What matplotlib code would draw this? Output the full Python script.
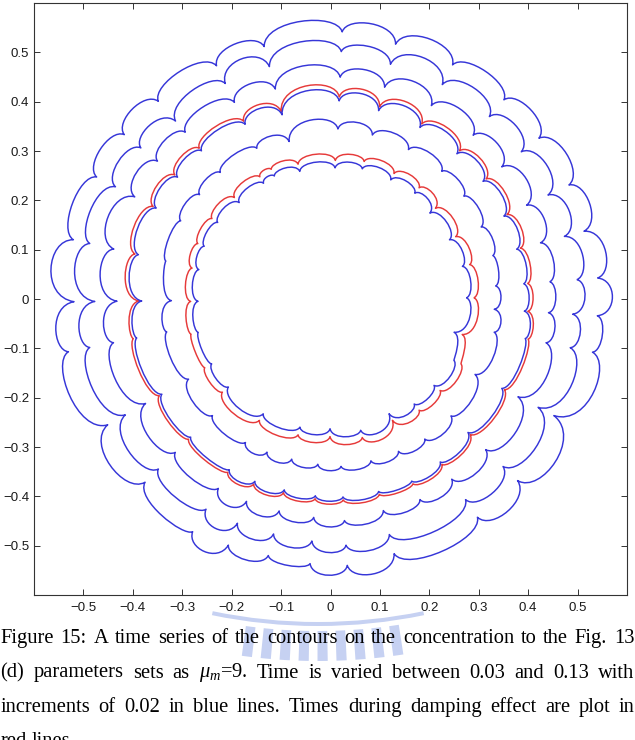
import numpy as np
import matplotlib
matplotlib.use("Agg")
import matplotlib.pyplot as plt
from matplotlib.path import Path
from matplotlib.patches import PathPatch, Wedge

# ---------------- data ----------------
# finger (cusp) angles in degrees, shared by the outer contours
ang_outer = [4.5, 15, 25.6, 37.7, 49, 62.5, 75.7, 87.5, 104.7, 116, 131, 141.4, 152.4,
             167, 180.6, 191.4, 209.5, 224.7, 239.4, 247.5, 256.4, 265.6, 273.6, 284,
             303.9, 315.8, 332.4, 348.5, 356.4]
ang_mid = [4.5, 15, 25.6, 37.7, 49, 62.5, 75.7, 87.5, 104.7, 116, 131, 141.4, 152.4,
           167, 180.6, 191.4, 209.5, 224.7, 239.4, 247.5, 256.4, 265.6, 273.6, 284, 294,
           303.9, 315.8, 332.4, 348.5, 356.4]
ang_inner = [0.5, 13.9, 26.5, 40.9, 51.5, 63.2, 76.3, 88, 103.5, 114.5, 120, 133.4, 145.8,
             157.3, 167.4, 181, 194.2, 208.7, 220.8, 239.7, 256.6, 269.8, 282.9, 297,
             308.5, 320.1, 333.5, 344.9]

# t = 0.13 (outermost blue)
b6_cusp = [0.542, 0.531, 0.535, 0.533, 0.535, 0.535, 0.533, 0.542, 0.529, 0.526, 0.531,
           0.534, 0.534, 0.534, 0.519, 0.541, 0.518, 0.528, 0.548, 0.540, 0.535, 0.538,
           0.541, 0.532, 0.533, 0.528, 0.510, 0.541, 0.541]
b6_peak = [0.565, 0.559, 0.561, 0.558, 0.558, 0.564, 0.564, 0.566, 0.552, 0.553, 0.556,
           0.556, 0.557, 0.569, 0.559, 0.563, 0.559, 0.556, 0.572, 0.556, 0.547, 0.560,
           0.564, 0.559, 0.560, 0.562, 0.565, 0.555, 0.5705]
# t = 0.11
b5_cusp = [0.500, 0.490, 0.488, 0.488, 0.490, 0.490, 0.491, 0.502, 0.487, 0.486, 0.478,
           0.491, 0.491, 0.500, 0.477, 0.497, 0.477, 0.490, 0.495, 0.492, 0.490, 0.492,
           0.500, 0.492, 0.490, 0.487, 0.474, 0.495, 0.491]
b5_peak = [0.518, 0.515, 0.515, 0.514, 0.517, 0.524, 0.518, 0.525, 0.519, 0.507, 0.508,
           0.512, 0.518, 0.521, 0.512, 0.515, 0.512, 0.510, 0.520, 0.512, 0.510, 0.514,
           0.516, 0.516, 0.512, 0.513, 0.518, 0.510, 0.515]
# t = 0.09
b4_cusp = [0.445, 0.440, 0.440, 0.438, 0.440, 0.442, 0.443, 0.450, 0.440, 0.4435, 0.448,
           0.448, 0.447, 0.450, 0.432, 0.448, 0.430, 0.442, 0.446, 0.444, 0.442, 0.444,
           0.450, 0.442, 0.445, 0.440, 0.438, 0.428, 0.445, 0.442]
b4_peak = [0.458, 0.462, 0.465, 0.462, 0.466, 0.472, 0.470, 0.476, 0.4655, 0.467, 0.465,
           0.469, 0.480, 0.469, 0.462, 0.465, 0.462, 0.460, 0.468, 0.462, 0.458, 0.462,
           0.462, 0.458, 0.460, 0.460, 0.462, 0.465, 0.458, 0.456]
# damping (red), outer
r2_cusp = [0.400, 0.398, 0.396, 0.398, 0.398, 0.400, 0.402, 0.410, 0.393, 0.401, 0.405,
           0.403, 0.405, 0.406, 0.388, 0.407, 0.398, 0.404, 0.408, 0.406, 0.404, 0.406,
           0.408, 0.408, 0.410, 0.404, 0.394, 0.397, 0.408, 0.400]
r2_peak = [0.410, 0.412, 0.414, 0.416, 0.420, 0.428, 0.430, 0.435, 0.420, 0.420, 0.418,
           0.420, 0.424, 0.418, 0.410, 0.414, 0.412, 0.414, 0.420, 0.418, 0.415, 0.416,
           0.418, 0.416, 0.418, 0.412, 0.410, 0.412, 0.414, 0.410]
# t = 0.07
b3_cusp = [0.392, 0.390, 0.389, 0.390, 0.390, 0.392, 0.394, 0.402, 0.386, 0.394, 0.398,
           0.396, 0.398, 0.399, 0.382, 0.400, 0.392, 0.398, 0.402, 0.400, 0.398, 0.400,
           0.402, 0.402, 0.404, 0.398, 0.388, 0.391, 0.402, 0.393]
b3_peak = [0.402, 0.404, 0.406, 0.408, 0.412, 0.419, 0.421, 0.425, 0.412, 0.412, 0.410,
           0.412, 0.416, 0.410, 0.404, 0.408, 0.406, 0.408, 0.414, 0.412, 0.409, 0.410,
           0.412, 0.410, 0.412, 0.406, 0.404, 0.406, 0.408, 0.402]
# t = 0.05
b2_cusp = [0.335, 0.340, 0.338, 0.341, 0.343, 0.3415, 0.343, 0.345, 0.330, 0.340, 0.340,
           0.339, 0.342, 0.342, 0.322, 0.338, 0.330, 0.336, 0.338, 0.336, 0.334, 0.336,
           0.340, 0.338, 0.338, 0.342, 0.340, 0.330, 0.338, 0.332]
b2_peak = [0.345, 0.350, 0.352, 0.354, 0.358, 0.360, 0.362, 0.365, 0.352, 0.352, 0.350,
           0.352, 0.350, 0.340, 0.343, 0.345, 0.348, 0.348, 0.350, 0.348, 0.346, 0.348,
           0.350, 0.350, 0.352, 0.356, 0.352, 0.350, 0.348, 0.345]
# damping (red), inner
r1_cusp = [0.290, 0.290, 0.283, 0.281, 0.288, 0.285, 0.287, 0.281, 0.281, 0.289, 0.286,
           0.283, 0.290, 0.291, 0.287, 0.283, 0.291, 0.290, 0.289, 0.285, 0.283, 0.279,
           0.288, 0.276, 0.288, 0.289, 0.295, 0.276]
r1_peak = [0.301, 0.299, 0.297, 0.298, 0.299, 0.299, 0.296, 0.295, 0.296, 0.294, 0.296,
           0.298, 0.299, 0.298, 0.295, 0.295, 0.294, 0.297, 0.304, 0.297, 0.293, 0.297,
           0.303, 0.297, 0.298, 0.304, 0.290, 0.300]
# t = 0.03 (innermost blue)
b1_cusp = [0.275, 0.275, 0.269, 0.266, 0.274, 0.2705, 0.2716, 0.266, 0.266, 0.274, 0.271,
           0.269, 0.276, 0.277, 0.273, 0.268, 0.276, 0.274, 0.273, 0.2696, 0.267, 0.263,
           0.273, 0.261, 0.272, 0.273, 0.279, 0.259]
b1_peak = [0.286, 0.284, 0.282, 0.283, 0.284, 0.284, 0.280, 0.279, 0.281, 0.279, 0.281,
           0.284, 0.285, 0.284, 0.281, 0.281, 0.280, 0.2825, 0.289, 0.281, 0.277, 0.281,
           0.288, 0.281, 0.282, 0.2885, 0.2745, 0.2845]

xtick_vals = [-0.5, -0.4, -0.3, -0.2, -0.1, 0, 0.1, 0.2, 0.3, 0.4, 0.5]
xtick_labels = ['\u22120.5', '\u22120.4', '\u22120.3', '\u22120.2', '\u22120.1', '0',
                '0.1', '0.2', '0.3', '0.4', '0.5']
ytick_vals = [-0.5, -0.4, -0.3, -0.2, -0.1, 0, 0.1, 0.2, 0.3, 0.4, 0.5]
ytick_labels = ['\u22120.5', '\u22120.4', '\u22120.3', '\u22120.2', '\u22120.1', '0',
                '0.1', '0.2', '0.3', '0.4', '0.5']

caption_lines = [
    "Figure 15: A time series of the contours on the concentration to the Fig. 13",
    "(d) parameters sets as $\\mu_m$=9. Time is varied between 0.03 and 0.13 with",
    "increments of 0.02 in blue lines. Times during damping effect are plot in",
    "red lines.",
]

BLUE = '#3636d8'
RED = '#e63a3a'

# ---------------- figure ----------------
plt.rcParams['mathtext.fontset'] = 'custom'
plt.rcParams['mathtext.rm'] = 'Liberation Serif'
plt.rcParams['mathtext.it'] = 'Liberation Serif:italic'

W, H = 635, 740
fig = plt.figure(figsize=(W / 100, H / 100), dpi=100)
fig.patch.set_facecolor('white')

# background layer in pixel units (caption + watermark)
bg = fig.add_axes([0, 0, 1, 1], zorder=0)
bg.set_xlim(0, W)
bg.set_ylim(H, 0)
bg.axis('off')

# watermark (faint logo behind the caption)
wm_col = '#c6d1f2'
bg.add_patch(Wedge((318, 103), 523, 78.3, 101.7, width=4, facecolor=wm_col,
                   edgecolor='none', zorder=1))
for a in np.arange(81.2, 98.5, 1.95):
    bg.add_patch(Wedge((318, 103), 558, a, a + 1.05, width=30, facecolor=wm_col,
                       edgecolor='none', zorder=1))

ax = fig.add_axes([34 / W, 1 - 595 / H, 593 / W, 592 / H], zorder=2)


def draw_contour(ax, cusp_deg, cusp_r, peak_r, color):
    n = len(cusp_deg)
    verts, codes = [], []
    f = 0.08
    for i in range(n):
        a1 = np.deg2rad(cusp_deg[i])
        a2 = np.deg2rad(cusp_deg[(i + 1) % n])
        if a2 <= a1:
            a2 += 2 * np.pi
        r1, r2, rp = cusp_r[i], cusp_r[(i + 1) % n], peak_r[i]
        d = a2 - a1
        rc = (rp - 0.125 * (r1 + r2) * np.cos(d / 2)) / (0.75 * np.cos((0.5 - f) * d))
        p0 = (r1 * np.cos(a1), r1 * np.sin(a1))
        c1 = (rc * np.cos(a1 + f * d), rc * np.sin(a1 + f * d))
        c2 = (rc * np.cos(a2 - f * d), rc * np.sin(a2 - f * d))
        p3 = (r2 * np.cos(a2), r2 * np.sin(a2))
        if i == 0:
            verts.append(p0)
            codes.append(Path.MOVETO)
        verts += [c1, c2, p3]
        codes += [Path.CURVE4] * 3
    ax.add_patch(PathPatch(Path(verts, codes), fill=False, edgecolor=color,
                           lw=1.05, joinstyle='round'))


draw_contour(ax, ang_outer, b6_cusp, b6_peak, BLUE)
draw_contour(ax, ang_outer, b5_cusp, b5_peak, BLUE)
draw_contour(ax, ang_mid, b4_cusp, b4_peak, BLUE)
draw_contour(ax, ang_mid, r2_cusp, r2_peak, RED)
draw_contour(ax, ang_mid, b3_cusp, b3_peak, BLUE)
draw_contour(ax, ang_mid, b2_cusp, b2_peak, BLUE)
draw_contour(ax, ang_inner, r1_cusp, r1_peak, RED)
draw_contour(ax, ang_inner, b1_cusp, b1_peak, BLUE)

ax.set_xlim(-0.6, 0.6)
ax.set_ylim(-0.6, 0.6)
ax.set_xticks(xtick_vals)
ax.set_xticklabels(xtick_labels)
ax.set_yticks(ytick_vals)
ax.set_yticklabels(ytick_labels)
ax.tick_params(direction='in', top=True, right=True, length=4.5, width=0.7,
               color='#333333', labelsize=9.5, labelcolor='#1a1a1a')
ax.tick_params(axis='x', pad=5)
ax.tick_params(axis='y', pad=3.5)
for lab in ax.get_xticklabels() + ax.get_yticklabels():
    lab.set_fontfamily('Liberation Sans')
for sp in ax.spines.values():
    sp.set_linewidth(0.8)
    sp.set_color('#333333')

# ---------------- justified caption ----------------
cap_size = 14.8
cap_family = 'Liberation Serif'
baselines = [643, 677.5, 712, 746.5]
x_left, x_right = 0.5, 634.5
fig.canvas.draw()
renderer = fig.canvas.get_renderer()
for li, line in enumerate(caption_lines):
    words = line.split(' ')
    texts = []
    widths = []
    for w in words:
        t = bg.text(0, baselines[li], w, fontsize=cap_size, family=cap_family,
                    ha='left', va='baseline', color='black', zorder=3)
        bb = t.get_window_extent(renderer)
        texts.append(t)
        widths.append(bb.width)
    if li < len(caption_lines) - 1 and len(words) > 1:
        gap = (x_right - x_left - sum(widths)) / (len(words) - 1)
    else:
        sp_t = bg.text(0, 0, 'a a', fontsize=cap_size, family=cap_family)
        sp_t2 = bg.text(0, 0, 'aa', fontsize=cap_size, family=cap_family)
        gap = sp_t.get_window_extent(renderer).width - sp_t2.get_window_extent(renderer).width
        sp_t.remove()
        sp_t2.remove()
    x = x_left
    for t, wd in zip(texts, widths):
        t.set_x(x)
        x += wd + gap

fig.savefig('out.png', dpi=100, facecolor='white')
